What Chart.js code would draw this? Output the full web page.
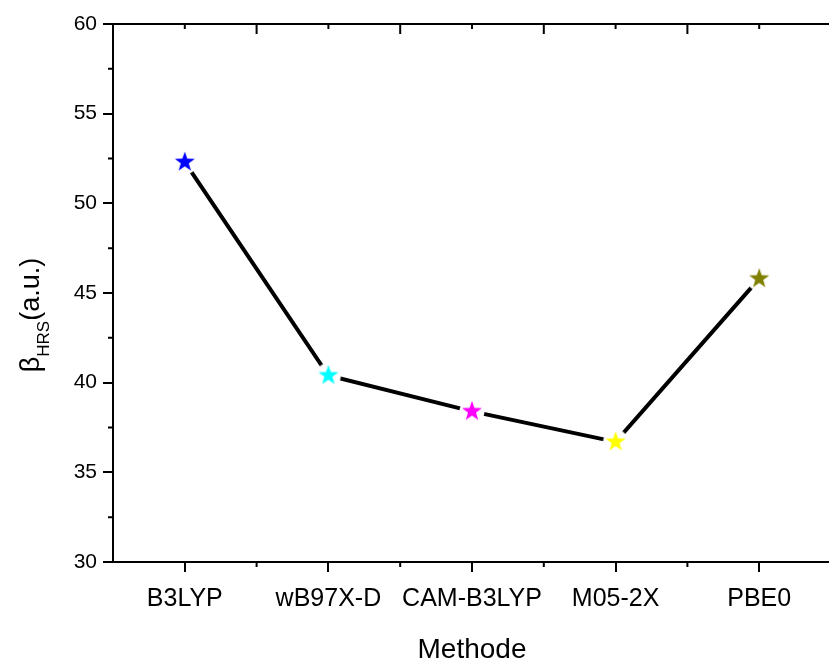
<!DOCTYPE html>
<html>
<head>
<meta charset="utf-8">
<script src="https://cdn.jsdelivr.net/npm/chart.js@4.4.1/dist/chart.umd.min.js"></script>
<style>
  html, body { margin: 0; padding: 0; overflow: hidden; background: #fff; }
  canvas { display: block; }
</style>
</head>
<body>
<canvas id="grafico" width="845" height="660"></canvas>
<script>
// valori
const metodi = ["B3LYP", "wB97X-D", "CAM-B3LYP", "M05-2X", "PBE0"];
const betaHRS = [52.3, 40.4, 38.4, 36.7, 45.8];
const coloriStelle = ["#0000ff", "#00ffff", "#ff00ff", "#ffff00", "#808000"];
const yTicks = [30, 35, 40, 45, 50, 55, 60];

const FONT = "'Liberation Sans', Arial, sans-serif";

// stella piena con alone bianco (per staccare la linea dal marker)
function stella(colore) {
  const c = document.createElement("canvas");
  c.width = 28; c.height = 28;
  const g = c.getContext("2d");
  g.fillStyle = "#ffffff";
  g.beginPath();
  g.arc(14, 14, 12.5, 0, Math.PI * 2);
  g.fill();
  g.fillStyle = colore;
  g.beginPath();
  for (let i = 0; i < 10; i++) {
    const r = i % 2 === 0 ? 10.5 : 4.2;
    const a = -Math.PI / 2 + i * Math.PI / 5;
    const px = 14 + r * Math.cos(a), py = 14 + r * Math.sin(a);
    if (i === 0) g.moveTo(px, py); else g.lineTo(px, py);
  }
  g.closePath();
  g.fill();
  return c;
}
const stelle = coloriStelle.map(stella);

// tacche secondarie, asse superiore e titoli
const assiExtra = {
  id: "assiExtra",
  afterDraw(chart) {
    const ctx = chart.ctx;
    const x = chart.scales.x, y = chart.scales.y;
    const a = chart.chartArea;
    ctx.save();
    ctx.strokeStyle = "#000";
    ctx.lineWidth = 2;
    ctx.beginPath();
    // asse superiore
    ctx.moveTo(a.left - 1, a.top);
    ctx.lineTo(chart.width, a.top);
    for (let i = 0; i < metodi.length; i++) {
      const px = x.getPixelForValue(i);
      ctx.moveTo(px, a.top); ctx.lineTo(px, a.top + 5);
      const pm = x.getPixelForValue(i + 0.5);
      ctx.moveTo(pm, a.top); ctx.lineTo(pm, a.top + 10);
      // tacche minori in basso
      ctx.moveTo(pm, a.bottom); ctx.lineTo(pm, a.bottom + 5);
    }
    for (let v = 32.5; v < 60; v += 5) {
      const py = y.getPixelForValue(v);
      ctx.moveTo(a.left, py); ctx.lineTo(a.left - 5, py);
    }
    ctx.stroke();

    // titolo asse x
    ctx.fillStyle = "#000";
    ctx.textAlign = "center";
    ctx.textBaseline = "alphabetic";
    ctx.font = "28px " + FONT;
    ctx.fillText("Methode", (a.left + a.right) / 2, 658);

    // titolo asse y con pedice
    const big = "27px " + FONT, small = "17px " + FONT;
    ctx.font = big;
    const w1 = ctx.measureText("\u03b2").width;
    const w3 = ctx.measureText("(a.u.)").width;
    ctx.font = small;
    const w2 = ctx.measureText("HRS").width;
    const tot = w1 + w2 + w3;
    ctx.translate(39, (a.top + a.bottom) / 2 + 22);
    ctx.rotate(-Math.PI / 2);
    ctx.textAlign = "left";
    let cx = -tot / 2;
    ctx.font = big;
    ctx.fillText("\u03b2", cx, 0);
    cx += w1;
    ctx.font = small;
    ctx.fillText("HRS", cx, 10);
    cx += w2;
    ctx.font = big;
    ctx.fillText("(a.u.)", cx, 0);
    ctx.restore();
  }
};

new Chart(document.getElementById("grafico"), {
  type: "line",
  data: {
    labels: metodi,
    datasets: [{
      data: betaHRS,
      borderColor: "#000",
      borderWidth: 4,
      tension: 0,
      fill: false,
      pointStyle: stelle,
      pointRadius: 10,
      pointHoverRadius: 10
    }]
  },
  options: {
    responsive: false,
    animation: false,
    devicePixelRatio: 1,
    layout: { padding: { top: 24, right: 5, left: 0, bottom: 0 } },
    plugins: {
      legend: { display: false },
      tooltip: { enabled: false }
    },
    scales: {
      x: {
        type: "category",
        offset: true,
        afterFit(s) { s.height = 98; },
        grid: { offset: false, drawOnChartArea: false, tickLength: 10, color: "#000", lineWidth: 2 },
        border: { color: "#000", width: 2 },
        ticks: { color: "#000", padding: 12, maxRotation: 0, font: { family: FONT, size: 25 } }
      },
      y: {
        min: 30,
        max: 60,
        afterFit(s) { s.width = 113; },
        afterBuildTicks(s) { s.ticks = yTicks.map(v => ({ value: v })); },
        grid: { drawOnChartArea: false, tickLength: 10, color: "#000", lineWidth: 2 },
        border: { color: "#000", width: 2 },
        ticks: { color: "#000", padding: 6, font: { family: FONT, size: 21 } }
      }
    }
  },
  plugins: [assiExtra]
});
</script>
</body>
</html>
